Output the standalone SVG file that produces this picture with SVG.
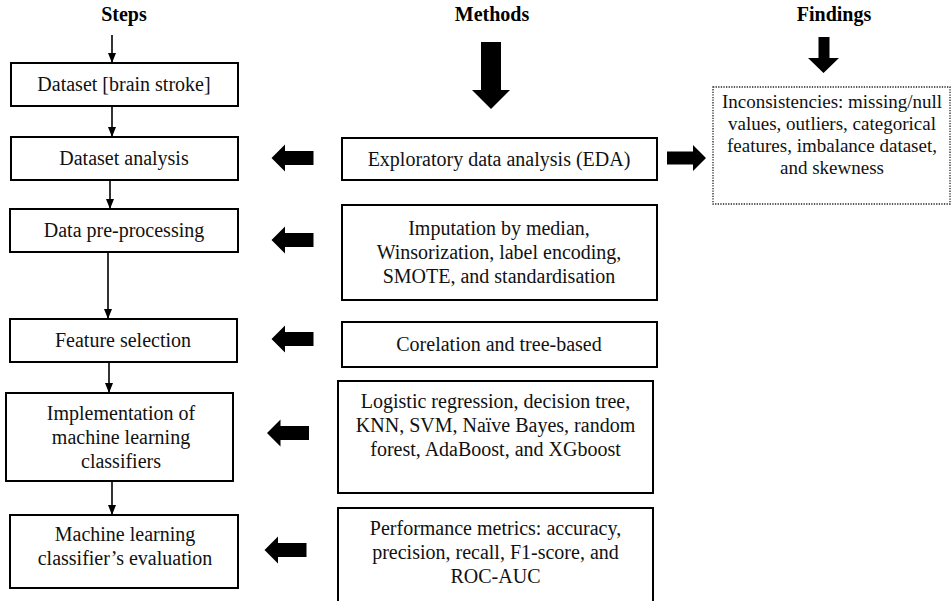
<svg xmlns="http://www.w3.org/2000/svg" width="951" height="601" viewBox="0 0 951 601">
<style>
.box{fill:#fff;stroke:#000;stroke-width:2}
.dot{fill:#fff;stroke:#222;stroke-width:1.3;stroke-dasharray:1.3 1.3}
.t{font-family:"Liberation Serif","Times New Roman",serif;font-size:20px;fill:#111;text-anchor:middle}
.f{font-size:19px}
.h{font-family:"Liberation Serif","Times New Roman",serif;font-size:20px;font-weight:bold;fill:#000;text-anchor:middle}
.ln{stroke:#000;stroke-width:1.6;fill:none}
.blk{fill:#000}
</style>
<defs>
<marker id="ah" viewBox="0 0 10 8" refX="10" refY="4" markerWidth="10" markerHeight="8" markerUnits="userSpaceOnUse" orient="auto">
<path d="M0,0 L10,4 L0,8 Z" fill="#000"/>
</marker>
<path id="larr" d="M-21,0 L-7.5,-13.5 L-7.5,-7 L21,-7 L21,7 L-7.5,7 L-7.5,13.5 Z"/>
</defs>

<text class="h" x="124" y="21">Steps</text>
<text class="h" x="492" y="21">Methods</text>
<text class="h" x="834" y="21">Findings</text>

<g id="connectors">
<line class="ln" x1="112" y1="35" x2="112" y2="63" marker-end="url(#ah)"/>
<line class="ln" x1="112" y1="106" x2="112" y2="137" marker-end="url(#ah)"/>
<line class="ln" x1="110" y1="180" x2="110" y2="209" marker-end="url(#ah)"/>
<line class="ln" x1="108" y1="252" x2="108" y2="319" marker-end="url(#ah)"/>
<line class="ln" x1="109" y1="362" x2="109" y2="393" marker-end="url(#ah)"/>
<line class="ln" x1="112" y1="481" x2="112" y2="515" marker-end="url(#ah)"/>
<path class="blk" d="M481,42 L501,42 L501,90 L510,90 L491,109 L472,90 L481,90 Z"/>
<path class="blk" d="M818.5,37 L829.5,37 L829.5,58 L839,58 L823.5,73 L808,58 L818.5,58 Z"/>
<path class="blk" d="M667,151.5 L693,151.5 L693,145 L706,158 L693,171 L693,164.5 L667,164.5 Z"/>
<use href="#larr" class="blk" x="292.5" y="158"/>
<use href="#larr" class="blk" x="292.5" y="240"/>
<use href="#larr" class="blk" x="292.5" y="339"/>
<use href="#larr" class="blk" x="288" y="433"/>
<use href="#larr" class="blk" x="285.5" y="550"/>
</g>

<g id="s1"><rect class="box" x="11" y="63" width="227" height="43"/><text class="t" x="124" y="91">Dataset [brain stroke]</text></g>
<g id="s2"><rect class="box" x="11" y="137" width="227" height="43"/><text class="t" x="124" y="165">Dataset analysis</text></g>
<g id="s3"><rect class="box" x="10" y="209" width="228" height="43"/><text class="t" x="124" y="237">Data pre-processing</text></g>
<g id="s4"><rect class="box" x="10" y="319" width="227" height="43"/><text class="t" x="123" y="347">Feature selection</text></g>
<g id="s5"><rect class="box" x="6" y="393" width="227" height="88"/>
<text class="t" x="121" y="420">Implementation of</text>
<text class="t" x="121" y="444">machine learning</text>
<text class="t" x="121" y="468">classifiers</text></g>
<g id="s6"><rect class="box" x="10" y="515" width="228" height="73"/>
<text class="t" x="125" y="541">Machine learning</text>
<text class="t" x="125" y="565">classifier’s evaluation</text></g>

<g id="m1"><rect class="box" x="342" y="138" width="315" height="42"/><text class="t" x="499" y="166">Exploratory data analysis (EDA)</text></g>
<g id="m2"><rect class="box" x="342" y="205" width="315" height="95"/>
<text class="t" x="499" y="235">Imputation by median,</text>
<text class="t" x="499" y="259">Winsorization, label encoding,</text>
<text class="t" x="499" y="283">SMOTE, and standardisation</text></g>
<g id="m3"><rect class="box" x="342" y="322" width="315" height="45"/><text class="t" x="499" y="351">Corelation and tree-based</text></g>
<g id="m4"><rect class="box" x="338" y="381" width="315" height="112"/>
<text class="t" x="495.5" y="408">Logistic regression, decision tree,</text>
<text class="t" x="495.5" y="432">KNN, SVM, Naïve Bayes, random</text>
<text class="t" x="495.5" y="456">forest, AdaBoost, and XGboost</text></g>
<g id="m5"><rect class="box" x="338" y="508" width="315" height="100"/>
<text class="t" x="495.5" y="535">Performance metrics: accuracy,</text>
<text class="t" x="495.5" y="559">precision, recall, F1-score, and</text>
<text class="t" x="495.5" y="583">ROC-AUC</text></g>

<g id="f1"><rect class="dot" x="713" y="87" width="237" height="117"/>
<text class="t f" x="832" y="108">Inconsistencies: missing/null</text>
<text class="t f" x="832" y="130">values, outliers, categorical</text>
<text class="t f" x="832" y="152">features, imbalance dataset,</text>
<text class="t f" x="832" y="174">and skewness</text></g>
</svg>
